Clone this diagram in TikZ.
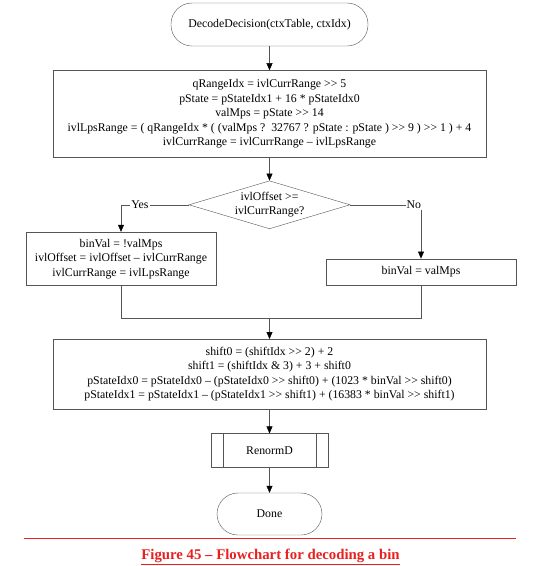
\documentclass[tikz,border=0pt]{standalone}
\usepackage{fontspec}
\setmainfont{Liberation Serif}
\usepackage{xcolor}
\usepackage{tikz}
\usetikzlibrary{arrows.meta,positioning,calc,shapes.geometric}
\definecolor{capred}{HTML}{E8201E}
\definecolor{edge}{HTML}{555555}
\newcommand{\flowfont}{\fontsize{11.8}{14.5}\selectfont}
\tikzset{
  term/.style={draw=edge, rounded corners=21pt, minimum height=42pt, align=center, font=\flowfont},
  proc/.style={draw=edge, align=center, inner sep=2pt, font=\flowfont},
  decide/.style={draw=edge, diamond, aspect=3.35, inner sep=-2pt, minimum width=161pt, minimum height=48pt, align=center, font=\flowfont},
  subproc/.style={draw=edge, minimum width=117pt, minimum height=34pt, font=\flowfont},
  smalllab/.style={font=\flowfont, fill=white, inner sep=1pt},
  arrow/.style={-{Triangle[length=7pt,width=6pt,color=black]}, draw=edge},
  link/.style={draw=edge},
}

\begin{document}
\begin{tikzpicture}[x=1pt, y=1pt, node distance=24pt]
\useasboundingbox (0,0) rectangle (535,-566);
\node[term, minimum width=197pt, minimum height=43pt] (start) at (269.5,-24.5) {DecodeDecision(ctxTable, ctxIdx)};
\node[proc, minimum width=433pt, minimum height=87pt, below=24pt of start] (range) {qRangeIdx = ivlCurrRange >{}> 5\\
pState = pStateIdx1 + 16 * pStateIdx0\\
valMps = pState >{}> 14\\
ivlLpsRange = ( qRangeIdx * ( (valMps ?~~32767 ? pState : pState ) >{}> 9 ) >{}> 1 ) + 4\\
ivlCurrRange = ivlCurrRange -- ivlLpsRange};
\node[decide, below=23pt of range] (cmp) {ivlOffset >=\\ivlCurrRange?};
\node[proc, minimum width=190.5pt, minimum height=53.5pt] (mpsno) at (121,-258.75) {binVal = !valMps\\
ivlOffset = ivlOffset -- ivlCurrRange\\
ivlCurrRange = ivlLpsRange};
\node[proc, minimum width=190pt, minimum height=26.5pt] (mpsyes) at (421,-272) {binVal = valMps};
\coordinate (join) at (269.5,-318);
\node[proc, minimum width=433pt, minimum height=70pt, below=21pt of join] (upd) {shift0 = (shiftIdx >{}> 2) + 2\\
shift1 = (shiftIdx \& 3) + 3 + shift0\\
pStateIdx0 = pStateIdx0 -- (pStateIdx0 >{}> shift0) + (1023 * binVal >{}> shift0)\\
pStateIdx1 = pStateIdx1 -- (pStateIdx1 >{}> shift1) + (16383 * binVal >{}> shift1)};
\node[subproc, below=24pt of upd] (renorm) {RenormD};
\draw[link] ([xshift=12pt]renorm.north west) -- ([xshift=12pt]renorm.south west);
\draw[link] ([xshift=-12pt]renorm.north east) -- ([xshift=-12pt]renorm.south east);
\node[term, minimum width=105pt, below=25pt of renorm] (done) {Done};
\draw[arrow] (start) -- (range);
\draw[arrow] (range) -- (cmp);
\draw[arrow] (cmp.west) -| node[smalllab, pos=0.36] {Yes} (mpsno.north);
\draw[arrow] (cmp.east) -| node[smalllab, pos=0.45] {No} (mpsyes.north);
\draw[link] (mpsno.south) |- (join);
\draw[link] (mpsyes.south) |- (join);
\draw[arrow] (join) -- (upd);
\draw[arrow] (upd) -- (renorm);
\draw[arrow] (renorm) -- (done);
\draw[capred, line width=0.8pt] (24,-538) -- (516,-538);
\node[font=\fontsize{14.8}{16}\selectfont\bfseries, text=capred] (cap) at (270.5,-556.5) {\underline{Figure 45 -- Flowchart for decoding a bin}};
\end{tikzpicture}
\end{document}
